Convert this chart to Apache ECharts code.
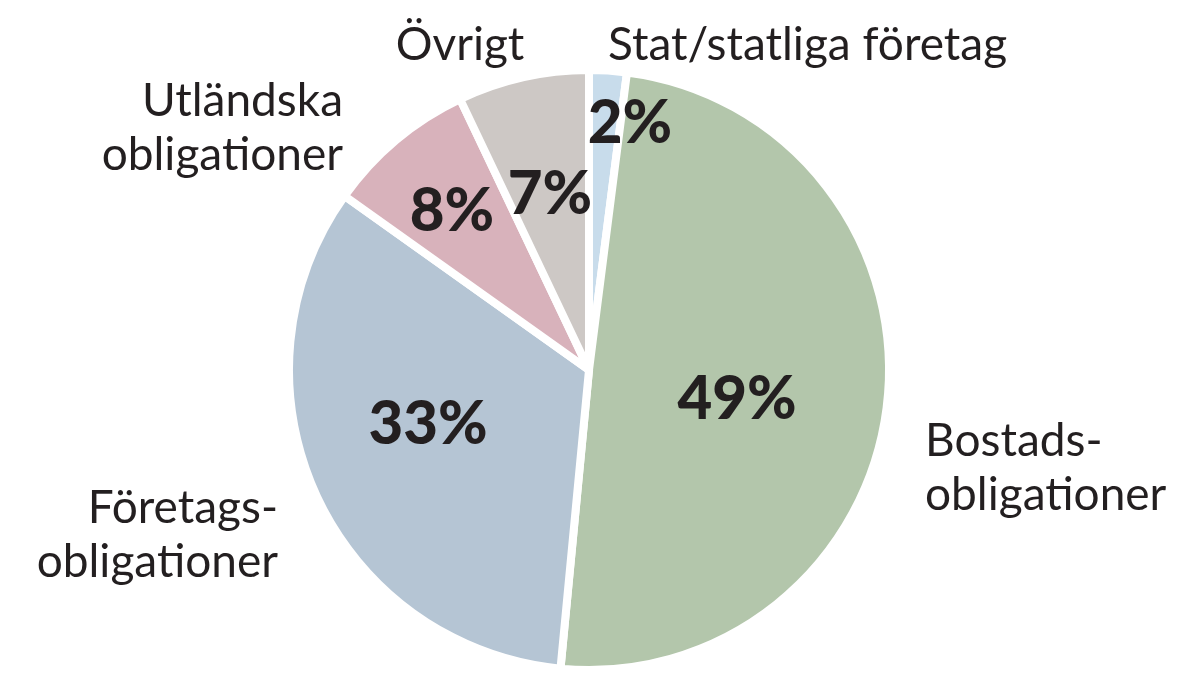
<!DOCTYPE html>
<html><head><meta charset="utf-8">
<script src="https://cdn.jsdelivr.net/npm/echarts@6/dist/echarts.min.js"></script>
<style>html,body{margin:0;background:#fff}#c{width:1182px;height:680px}</style>
</head><body><div id="c"></div>
<script>
const categories = ['Stat/statliga företag','Bostadsobligationer','Företagsobligationer','Utländska obligationer','Övrigt'];
const values = [2, 49, 33, 8, 7];
const valueLabels = ['2%','49%','33%','8%','7%'];
const colors = ['#c8dceb','#b3c6ab','#b5c5d4','#d8b2bb','#cdc8c5'];
const outerLabels = [
  {text:'Stat/statliga företag', x:608, y:45, align:'left'},
  {text:'Bostads-\nobligationer', x:925, y:468, align:'left'},
  {text:'Företags-\nobligationer', x:278, y:535, align:'right'},
  {text:'Utländska\nobligationer', x:343, y:128, align:'right'},
  {text:'Övrigt', x:460, y:45, align:'center'}
];
const innerPos = [[630,124],[737,400],[428,425],[452,212],[550,195]];
const chart = echarts.init(document.getElementById('c'));
const graphics = [];
outerLabels.forEach(o=>graphics.push({type:'text',x:o.x,y:o.y,style:{text:o.text,font:'46px Lato',fill:'#231f20',align:o.align,verticalAlign:'middle',lineHeight:54}}));
innerPos.forEach((p,i)=>graphics.push({type:'text',x:p[0],y:p[1],z:10,style:{text:valueLabels[i],font:'900 60px Lato',fill:'#231f20',align:'center',verticalAlign:'middle'}}));
chart.setOption({
  animation:false,
  series:[{type:'pie',center:[589,370],radius:[0,300],startAngle:90,clockwise:true,
    label:{show:false},labelLine:{show:false},
    itemStyle:{borderColor:'#fff',borderWidth:8},
    data:categories.map((n,i)=>({name:n,value:values[i],itemStyle:{color:colors[i]}}))}],
  graphic:graphics
});
</script></body></html>
